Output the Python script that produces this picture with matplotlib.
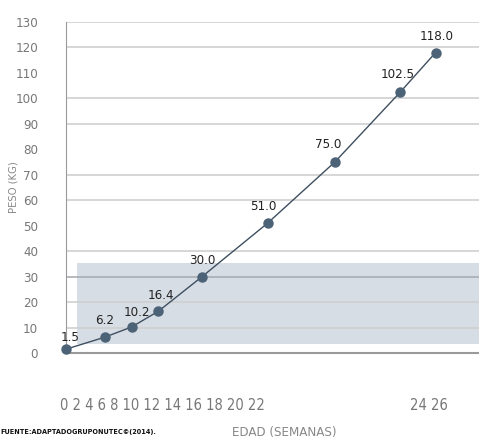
import matplotlib
matplotlib.use("Agg")
import matplotlib.pyplot as plt
from matplotlib.patches import Rectangle

# ---- data ----
edad = [0, 2.3, 3.9, 5.5, 8.1, 12.0, 16.0, 19.9, 22.0]
peso = [1.5, 6.2, 10.2, 16.4, 30.0, 51.0, 75.0, 102.5, 118.0]
etiquetas = ["1.5", "6.2", "10.2", "16.4", "30.0", "51.0", "75.0", "102.5", "118.0"]
yticks = [0, 10, 20, 30, 40, 50, 60, 70, 80, 90, 100, 110, 120, 130]
ygrid = [10, 20, 30, 40, 60, 70, 90, 100, 120, 130]
xtick_left = ["0", "2", "4", "6", "8", "10", "12", "14", "16", "18", "20", "22"]
xtick_right = ["24", "26"]

plt.rcParams['font.family'] = ['DejaVu Sans']
plt.rcParams['font.stretch'] = 'condensed'

W, H = 479, 440
fig = plt.figure(figsize=(W / 100, H / 100), dpi=100)
ax = fig.add_axes([66 / W, 1 - 353 / H, 1 - 66 / W, (353 - 22) / H])
ax.set_xlim(0, (W - 66) / 16.8)
ax.set_ylim(0, 130)

ax.add_patch(Rectangle((0.65, 3.5), 30, 31.7, facecolor="#d7dde5", edgecolor="none", zorder=0))

for g in ygrid:
    ax.axhline(g, color="#a9aeb4" if g == 30 else "#cfcfcf", lw=1.2, zorder=1)

for s in ["top", "right"]:
    ax.spines[s].set_visible(False)
ax.spines["left"].set_color("#9a9a9a")
ax.spines["bottom"].set_color("#9a9a9a")
ax.spines["bottom"].set_linewidth(1.5)

ax.plot(edad, peso, color="#3e4f60", lw=1.0, marker="o", ms=6.5,
        mfc="#4b6277", mec="#4b6277", zorder=5, clip_on=False)

offsets = [(3, 4), (0, 7), (4, 6), (2, 7), (0, 7), (-3, 7), (-5, 8), (-2, 8), (1, 7)]
for x, y, t, (dx, dy) in zip(edad, peso, etiquetas, offsets):
    ax.annotate(t, (x, y), xytext=(dx, dy), textcoords="offset points",
                ha="center", va="bottom", fontsize=9.5, color="#222222", zorder=6)

ax.set_yticks(yticks)
ax.set_yticklabels([str(v) for v in yticks], fontsize=9.5, color="#777777")
ax.tick_params(axis="y", length=0, pad=20)
ax.set_xticks([])
ax.set_ylabel("PESO (KG)", fontsize=8, color="#888888")
ax.yaxis.set_label_coords(-48 / (W - 66), 0.5)

fig.text(60 / W, 1 - 405 / H, " ".join(xtick_left), fontsize=10.5, color="#777777",
         ha="left", va="center")
fig.text(410 / W, 1 - 405 / H, " ".join(xtick_right), fontsize=10.5, color="#777777",
         ha="left", va="center")
fig.text(0, 1 - 432 / H, "FUENTE:ADAPTADOGRUPONUTEC©(2014).", fontsize=5.2,
         color="#111111", fontweight="bold", ha="left", va="center")
fig.text(232 / W, 1 - 432 / H, "EDAD (SEMANAS)", fontsize=9.5, color="#888888",
         ha="left", va="center")

fig.savefig("out.png", dpi=100)
